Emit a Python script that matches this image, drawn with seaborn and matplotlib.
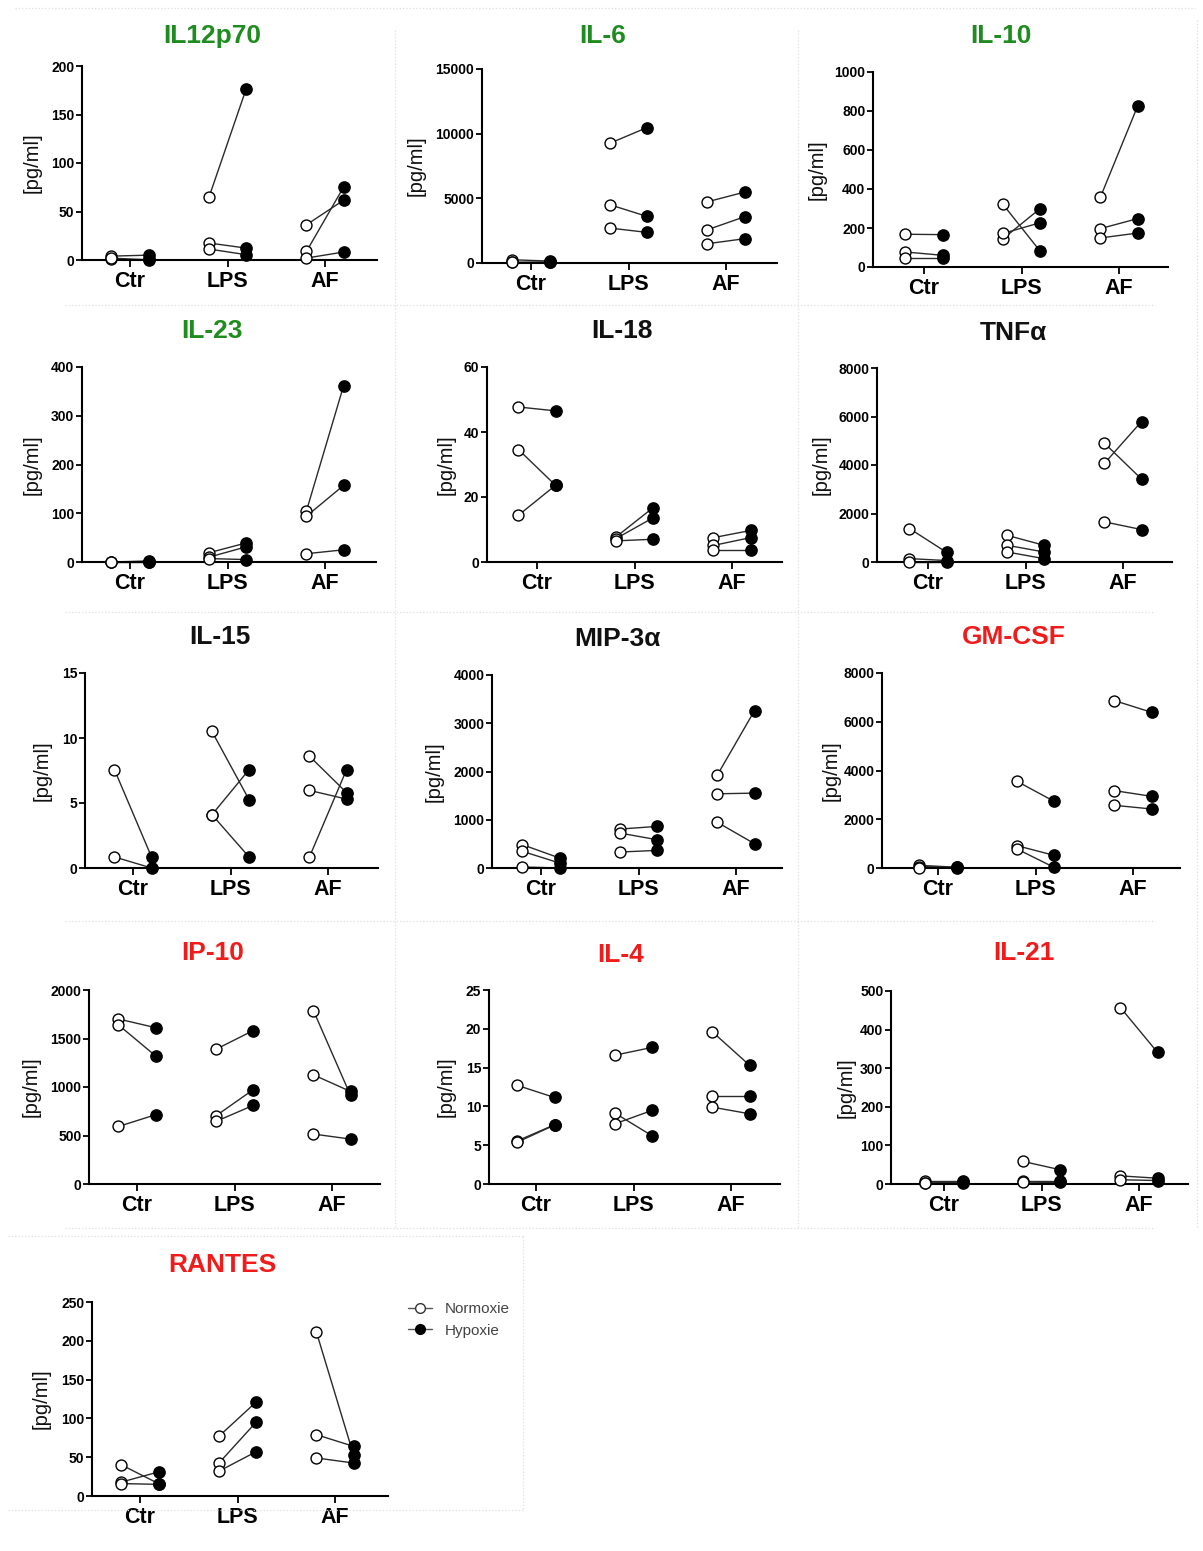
import matplotlib
matplotlib.use("Agg")
import matplotlib.pyplot as plt
import numpy as np
import pandas as pd
import seaborn as sns
from matplotlib.lines import Line2D

# ---------------- data ----------------
groups = ["Ctr", "LPS", "AF"]
cytokines = ["IL12p70", "IL-6", "IL-10", "IL-23", "IL-18", "TNFα", "IL-15",
             "MIP-3α", "GM-CSF", "IP-10", "IL-4", "IL-21", "RANTES"]
GREEN, BLACK, RED = "#1e8c1e", "#111111", "#f01c1c"
title_colors = [GREEN, GREEN, GREEN, GREEN, BLACK, BLACK, BLACK, BLACK,
                RED, RED, RED, RED, RED]
y_max = [200, 15000, 1000, 400, 60, 8000, 15, 4000, 8000, 2000, 25, 500, 250]
y_step = [50, 5000, 200, 100, 20, 2000, 5, 1000, 2000, 500, 5, 100, 50]

# paired donors per group: Normoxie[i] -> Hypoxie[i]
il12p70_norm = [[4, 1, 2], [64.7, 17.5, 11.3], [36.3, 8.9, 2]]
il12p70_hyp = [[5, 1, 0], [176, 12.3, 5.5], [61.6, 75, 8.2]]
il6_norm = [[250, 100, 50], [9262, 4502, 2701], [4734, 2573, 1492]]
il6_hyp = [[150, 100, 80], [10471, 3602, 2367], [5480, 3576, 1878]]
il10_norm = [[168, 77, 45], [321, 145, 172], [359, 197, 149]]
il10_hyp = [[166, 60, 45], [82, 299, 227], [824, 248, 174]]
il23_norm = [[0, 0, 0], [19, 10, 7], [105, 94, 17]]
il23_hyp = [[2, 1, 0], [39, 31, 5], [361, 157, 25]]
il18_norm = [[47.7, 34.6, 14.4], [7.7, 7.2, 6.5], [7.5, 5.1, 3.6]]
il18_hyp = [[46.5, 23.6, 23.6], [16.7, 13.6, 7.0], [9.7, 7.5, 3.6]]
tnfa_norm = [[1380, 140, 0], [1100, 690, 414], [4897, 4069, 1655]]
tnfa_hyp = [[400, 60, 0], [690, 414, 138], [3421, 5793, 1338]]
il15_norm = [[7.56, 0.85], [10.5, 4.1, 4.1], [8.6, 5.97, 0.85]]
il15_hyp = [[0.85, 0.0], [5.26, 7.56, 0.85], [5.8, 5.3, 7.56]]
mip3a_norm = [[483, 345, 21], [807, 724, 331], [1931, 1538, 945]]
mip3a_hyp = [[207, 103, 0], [862, 586, 365], [3262, 1552, 503]]
gmcsf_norm = [[110, 60, 20], [3556, 916, 780], [6867, 3174, 2572]]
gmcsf_hyp = [[30, 25, 10], [2736, 520, 27], [6388, 2941, 2421]]
ip10_norm = [[1701, 1640, 593], [1389, 703, 645], [1787, 1125, 515]]
ip10_hyp = [[1612, 1321, 714], [1581, 971, 810], [913, 954, 463]]
il4_norm = [[12.7, 5.57, 5.4], [16.6, 9.13, 7.76], [19.6, 11.4, 9.9]]
il4_hyp = [[11.15, 7.63, 7.6], [17.6, 6.22, 9.48], [15.3, 11.4, 9.05]]
il21_norm = [[7, 3, 2], [58.5, 7, 5], [457, 21, 11]]
il21_hyp = [[7, 4, 2], [37, 7, 4], [341, 15, 9]]
rantes_norm = [[40, 18, 16], [77, 42.5, 32], [211, 79, 49]]
rantes_hyp = [[16, 31, 15], [121, 95, 57], [53, 64, 42.5]]

norm_data = [il12p70_norm, il6_norm, il10_norm, il23_norm, il18_norm, tnfa_norm,
             il15_norm, mip3a_norm, gmcsf_norm, ip10_norm, il4_norm, il21_norm,
             rantes_norm]
hyp_data = [il12p70_hyp, il6_hyp, il10_hyp, il23_hyp, il18_hyp, tnfa_hyp,
            il15_hyp, mip3a_hyp, gmcsf_hyp, ip10_hyp, il4_hyp, il21_hyp,
            rantes_hyp]

# ---------------- layout (pixels) ----------------
W, H = 1203, 1551
# x0 (spine), x_end, y_top, y_zero, first group centre, title x, title y, ylabel centre x
layout = [
    (82, 377, 66, 260, 130, 212, 36, 33),
    (482, 777, 69, 263, 531, 603, 36, 417),
    (873, 1168, 72, 267, 924, 1001, 36, 818),
    (82, 376, 367, 562, 130, 212, 331, 33),
    (487, 782, 367, 562, 537, 622, 331, 447),
    (877, 1172, 368, 562, 928, 1013, 333, 822),
    (85, 378, 673, 868, 133, 220, 637, 43),
    (492, 782, 675, 868, 541, 617, 639, 435),
    (882, 1180, 673, 868, 938, 1014, 637, 832),
    (89, 380, 990, 1184, 137, 213, 953, 32),
    (489, 780, 990, 1184, 536, 621, 955, 447),
    (891, 1188, 991, 1184, 944, 1024, 953, 847),
    (92, 388, 1302, 1496, 140, 222, 1265, 42),
]
SPACING = 97.5
OFFSET = 0.19

sns.set_theme(style="ticks")
plt.rcParams["font.family"] = ["Liberation Sans", "DejaVu Sans"]

fig = plt.figure(figsize=(W / 100, H / 100), dpi=100)
fig.patch.set_facecolor("white")

# faint dotted panel separators
def fig_line(x1, y1, x2, y2):
    fig.add_artist(Line2D([x1 / W, x2 / W], [1 - y1 / H, 1 - y2 / H],
                          color="#dedede", lw=0.9, ls=":"))

fig_line(15, 8, 1195, 8)
for yy in (305, 612, 921, 1228):
    fig_line(65, yy, 1155, yy)
for xx in (395, 798):
    fig_line(xx, 30, xx, 1228)
fig_line(1197, 20, 1197, 1228)
fig_line(8, 1236, 523, 1236)
fig_line(523, 1236, 523, 1510)
fig_line(8, 1510, 523, 1510)

for i, name in enumerate(cytokines):
    x0, x1, yt, y0, c0, tx, ty, lx = layout[i]
    ax = fig.add_axes([x0 / W, 1 - y0 / H, (x1 - x0) / W, (y0 - yt) / H])
    ax.set_facecolor("none")

    rows = []
    for g, gname in enumerate(groups):
        for d, (vn, vh) in enumerate(zip(norm_data[i][g], hyp_data[i][g])):
            pid = f"{gname}_{d}"
            rows.append(dict(group=gname, pair=pid, cond="Normoxie",
                             x=g - OFFSET, value=vn))
            rows.append(dict(group=gname, pair=pid, cond="Hypoxie",
                             x=g + OFFSET, value=vh))
    df = pd.DataFrame(rows)

    sns.lineplot(data=df, x="x", y="value", units="pair", estimator=None,
                 sort=False, color="#2a2a2a", linewidth=1.0, ax=ax,
                 legend=False, zorder=2)
    sns.scatterplot(data=df[df.cond == "Normoxie"], x="x", y="value", ax=ax,
                    color="white", edgecolor="black", linewidth=1.0, s=62,
                    zorder=3, clip_on=False, legend=False)
    sns.scatterplot(data=df[df.cond == "Hypoxie"], x="x", y="value", ax=ax,
                    color="black", edgecolor="black", linewidth=1.0, s=66,
                    zorder=4, clip_on=False, legend=False)
    for ln in ax.lines:
        ln.set_clip_on(False)

    ax.set_xlim((x0 - c0) / SPACING, (x1 - c0) / SPACING)
    ax.set_ylim(0, y_max[i])
    ax.set_xticks(range(len(groups)))
    ax.set_xticklabels(groups, fontsize=15.5, fontweight="bold")
    ax.set_yticks(np.arange(0, y_max[i] + y_step[i] / 2, y_step[i]))
    ax.set_yticklabels([f"{int(v)}" for v in ax.get_yticks()],
                       fontsize=10, fontweight="bold")
    ax.tick_params(axis="y", length=4, width=1.3, pad=1.5, colors="black")
    ax.tick_params(axis="x", length=5, width=1.3, pad=3, colors="black")
    for s in ("top", "right"):
        ax.spines[s].set_visible(False)
    for s in ("left", "bottom"):
        ax.spines[s].set_linewidth(1.5)
        ax.spines[s].set_color("black")
    ax.set_xlabel("")
    ax.set_ylabel("[pg/ml]", fontsize=14.5, color="#111111")
    # label anchor is its baseline side (right edge when rotated)
    ax.yaxis.set_label_coords((lx + 9 - x0) / (x1 - x0), 0.5)

    fig.text(tx / W, 1 - ty / H, name, ha="center", va="center",
             fontsize=19, fontweight="bold", color=title_colors[i])

handles = [
    Line2D([], [], color="#555555", lw=1, marker="o", ms=7,
           mfc="white", mec="#333333", mew=1),
    Line2D([], [], color="#555555", lw=1, marker="o", ms=7,
           mfc="black", mec="black", mew=1),
]
fig.legend(handles, ["Normoxie", "Hypoxie"], loc="upper left",
           bbox_to_anchor=(408 / W, 1 - 1302 / H), frameon=False,
           fontsize=11, labelcolor="#444444", handlelength=1.6,
           handletextpad=0.8, labelspacing=0.5, borderpad=0,
           borderaxespad=0)

fig.savefig("out.png", dpi=100, facecolor="white")
